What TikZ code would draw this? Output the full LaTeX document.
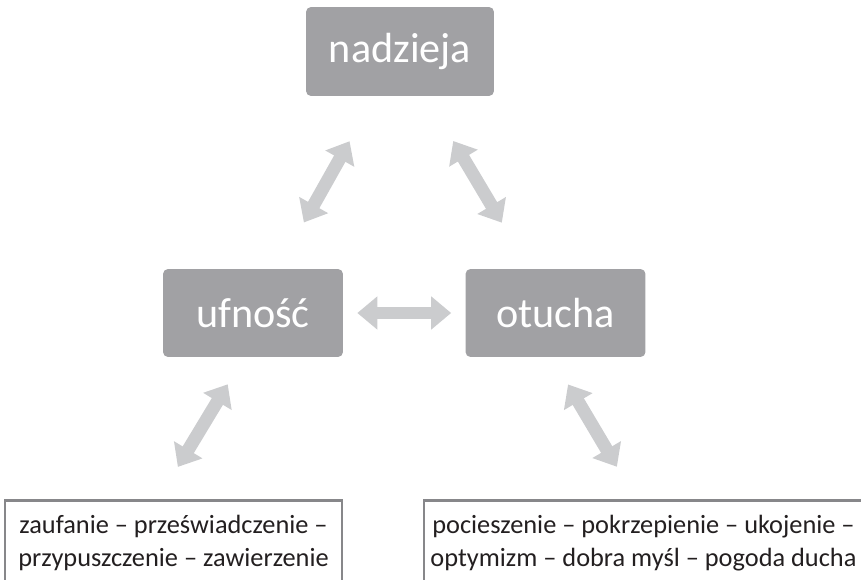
\documentclass[tikz,border=0pt]{standalone}
\usepackage{fontspec}
\setmainfont{Carlito}
\usepackage{tikz}
\usetikzlibrary{arrows.meta}
\definecolor{boxgray}{HTML}{A1A1A4}
\definecolor{arrowgray}{HTML}{CBCCCE}
\definecolor{framegray}{HTML}{87878A}
\definecolor{textdark}{HTML}{231F20}

\begin{document}
\begin{tikzpicture}[x=0.02cm, y=-0.02cm,
    word/.style={fill=boxgray, rounded corners=0.1cm, text=white, minimum height=1.76cm,
        minimum width=3.6cm, font=\fontsize{24}{29}\selectfont},
    list/.style={draw=framegray, line width=1.5pt, fill=white, text=textdark, anchor=north,
        align=center, inner ysep=0.3cm, text depth=2cm, font=\fontsize{15}{18.8}\selectfont},
    link/.style={draw=arrowgray, line width=0.26cm,
        {Triangle[width=0.64cm, length=0.4cm]}-{Triangle[width=0.64cm, length=0.4cm]}}]

    \useasboundingbox (0,0) rectangle (861,580);

    \node [word, minimum width=3.76cm, minimum height=1.78cm] (nad) at (400,51.5) {nadzieja};
    \node [word] (ufn) at (253,313) {ufność};
    \node [word] (otu) at (555.5,313) {otucha};

    \node [list, minimum width=6.74cm] (syn1) at (173.5,499)
        {zaufanie – przeświadczenie –\\przypuszczenie – zawierzenie};
    \node [list, minimum width=8.78cm] (syn2) at (643.5,499)
        {pocieszenie – pokrzepienie – ukojenie –\\optymizm – dobra myśl – pogoda ducha};

    % strzalki miedzy pojeciami
    \draw [link, shorten <=1.03cm, shorten >=1.06cm] (nad) -- (ufn);
    \draw [link, shorten <=1.04cm, shorten >=1.07cm] (nad) -- (otu);
    \draw [link, shorten <=0.28cm, shorten >=0.28cm] (ufn) -- (otu);
    \draw [link, shorten <=0.63cm, shorten >=0.75cm]
        ([xshift=-0.18cm]ufn.south) -- ([xshift=-0.3cm]syn1.north);
    \draw [link, shorten <=0.63cm, shorten >=0.75cm]
        ([xshift=-0.07cm]otu.south) -- ([xshift=-0.15cm]syn2.north);

\end{tikzpicture}
\end{document}
